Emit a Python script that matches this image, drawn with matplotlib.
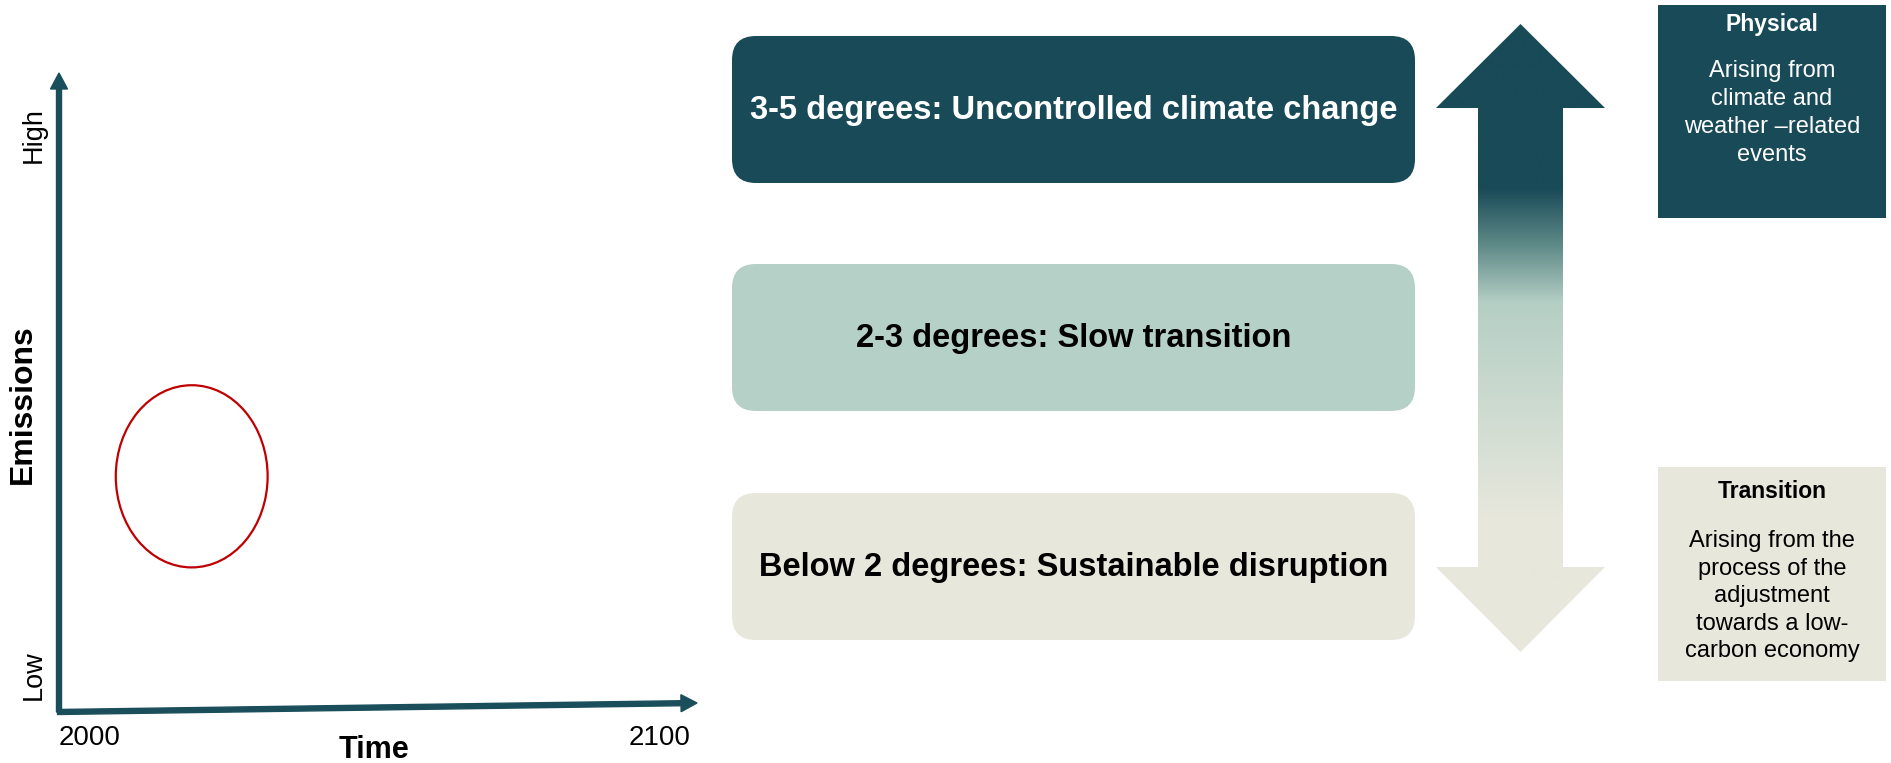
import numpy as np
import matplotlib
matplotlib.use("Agg")
import matplotlib.pyplot as plt
from matplotlib.patches import FancyBboxPatch, Ellipse, Polygon, Rectangle
from matplotlib.colors import to_rgb

plt.rcParams['font.family'] = ['Liberation Sans', 'DejaVu Sans']

# ---- data ----
years = [2000, 2100]
emission_levels = ["Low", "High"]
x_label = "Time"
y_label = "Emissions"
highlight_year = 2020.8        # ellipse centre (year)
highlight_level = 0.37         # ellipse centre (relative emissions)
highlight_span_years = 23.8
highlight_span_level = 0.286

scenarios = ["3-5 degrees: Uncontrolled climate change",
             "2-3 degrees: Slow transition",
             "Below 2 degrees: Sustainable disruption"]
scenario_colors = ["#184A57", "#B5D0C7", "#E7E7DC"]
scenario_text_colors = ["white", "black", "black"]

risk_titles = ["Physical", "Transition"]
risk_texts = [["Arising from", "climate and", "weather \u2013related", "events"],
              ["Arising from the", "process of the", "adjustment", "towards a low-", "carbon economy"]]
risk_colors = ["#184A57", "#E7E7DC"]
risk_text_colors = ["white", "black"]

axis_color = "#1B4E5B"

W, H = 1891, 763
fig = plt.figure(figsize=(W / 100, H / 100), dpi=100)
ov = fig.add_axes([0, 0, 1, 1])
ov.set_xlim(0, W)
ov.set_ylim(H, 0)
ov.axis('off')

# ---- left panel: emissions vs time ----
x0, x1, y0, y1 = 59, 697, 712, 75
axl = fig.add_axes([x0 / W, 1 - y0 / H, (x1 - x0) / W, (y0 - y1) / H])
axl.set_xlim(years[0], years[1])
axl.set_ylim(0, 1)
axl.axis('off')
axl.add_patch(Ellipse((highlight_year, highlight_level), highlight_span_years,
                      highlight_span_level, fill=False, edgecolor="#C00000", lw=1.6))

ov.arrow(59, 712, 0, -639, width=5, head_width=17, head_length=16,
         length_includes_head=True, color=axis_color, zorder=3)
ov.arrow(57.5, 712, 639.5, -9, width=5, head_width=17, head_length=16,
         length_includes_head=True, color=axis_color, zorder=3)

ov.text(34, 135, emission_levels[1], rotation=90, ha='center', va='center', fontsize=19.5)
ov.text(34, 675, emission_levels[0], rotation=90, ha='center', va='center', fontsize=19.5)
ov.text(23, 404, y_label, rotation=90, ha='center', va='center', fontsize=23, fontweight='bold')
ov.text(90, 738, str(years[0]), ha='center', va='center', fontsize=20)
ov.text(660, 738, str(years[1]), ha='center', va='center', fontsize=20)
ov.text(374, 750, x_label, ha='center', va='center', fontsize=22, fontweight='bold')

# ---- scenario boxes ----
bx0, bx1 = 732, 1415
box_tops = [36, 264, 493]
box_h = 147
for lab, col, tcol, top in zip(scenarios, scenario_colors, scenario_text_colors, box_tops):
    ov.add_patch(FancyBboxPatch((bx0, top), bx1 - bx0, box_h,
                                boxstyle="round,pad=0,rounding_size=24",
                                facecolor=col, edgecolor='none'))
    ov.text((bx0 + bx1) / 2, top + box_h / 2 + 1, lab, ha='center', va='center',
            fontsize=23.5, fontweight='bold', color=tcol)

# ---- gradient double arrow ----
cx, hw, sw = 1520.5, 84.5, 42.5
ytip, yhb, yhb2, ybot = 24, 108, 567, 652
verts = [(cx, ytip), (cx + hw, yhb), (cx + sw, yhb), (cx + sw, yhb2), (cx + hw, yhb2),
         (cx, ybot), (cx - hw, yhb2), (cx - sw, yhb2), (cx - sw, yhb), (cx - hw, yhb)]
poly = Polygon(verts, closed=True, facecolor='none', edgecolor='none')
ov.add_patch(poly)
stops_y = [ytip, 188, 245, 303, 517, ybot]
stops_c = ["#184A57", "#184A57", "#5F8A88", "#B5CFC5", "#E7E7DC", "#E7E7DC"]
yy = np.arange(ytip, ybot + 1)
rgb = np.array([to_rgb(c) for c in stops_c])
grad = np.stack([np.interp(yy, stops_y, rgb[:, k]) for k in range(3)], axis=-1)
img = grad[:, None, :].repeat(2, axis=1)
im = ov.imshow(img, extent=(cx - hw, cx + hw, ybot, ytip), aspect='auto',
               interpolation='bilinear', zorder=2)
im.set_clip_path(poly)
ov.set_xlim(0, W)
ov.set_ylim(H, 0)

# ---- risk boxes ----
rx0, rx1 = 1658, 1886
risk_boxes = [(5, 218), (467, 681)]
title_y = [25, 491]
line_y0 = [71, 541]
line_step = [28, 27.5]
for i in range(2):
    t, b = risk_boxes[i]
    ov.add_patch(Rectangle((rx0, t), rx1 - rx0, b - t, facecolor=risk_colors[i], edgecolor='none'))
    xc = (rx0 + rx1) / 2
    ov.text(xc, title_y[i], risk_titles[i], ha='center', va='center', fontsize=16.5,
            fontweight='bold', color=risk_text_colors[i])
    for j, line in enumerate(risk_texts[i]):
        ov.text(xc, line_y0[i] + j * line_step[i], line, ha='center', va='center',
                fontsize=17, color=risk_text_colors[i])

fig.savefig("out.png", dpi=100)
